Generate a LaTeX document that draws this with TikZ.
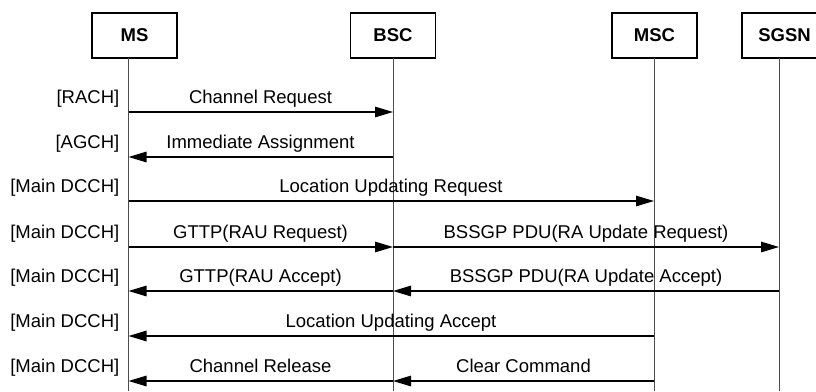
\documentclass[tikz,border=0pt]{standalone}
\usepackage{fontspec}
\setmainfont{Liberation Sans}
\usetikzlibrary{arrows.meta}
\begin{document}
\begin{tikzpicture}[x=1pt,y=-1pt,
 ent/.style={draw,line width=1.8pt,minimum width=85pt,minimum height=45pt,font=\fontsize{18.5}{20}\selectfont\bfseries,inner sep=0},
 life/.style={draw=black!70,line width=0.9pt},
 msg/.style={line width=1.3pt,-{Triangle[length=18pt,width=10.5pt]}},
 lbl/.style={font=\fontsize{18.5}{20}\selectfont,anchor=base,inner sep=0},
 chan/.style={font=\fontsize{18.5}{20}\selectfont,anchor=base east,inner sep=0}]
\path[use as bounding box] (0,0) rectangle (816,391);
\begin{scope}
\clip (0,0) rectangle (816,391);
% entities
\node[ent] (ms) at (134.5,35.5) {MS};
\node[ent] (bsc) at (393,35.5) {BSC};
\node[ent] (msc) at (654.5,35.5) {MSC};
\node[ent] (sgsn) at (784.5,35.5) {SGSN};
% lifelines
\coordinate (msT) at (128.5,58);   \coordinate (msB) at (128.5,391);
\coordinate (bscT) at (393,58);    \coordinate (bscB) at (393,391);
\coordinate (mscT) at (654,58);    \coordinate (mscB) at (654,391);
\coordinate (sgsnT) at (779,58);   \coordinate (sgsnB) at (779,391);
\draw[life] (msT) -- (msB);
\draw[life] (bscT) -- (bscB);
\draw[life] (mscT) -- (mscB);
\draw[life] (sgsnT) -- (sgsnB);
% messages
\draw[msg] (msT |- 0,112) -- (bscT |- 0,112);
\draw[msg] (bscT |- 0,157) -- (msT |- 0,157);
\draw[msg] (msT |- 0,201) -- (mscT |- 0,201);
\draw[msg] (msT |- 0,247) -- (bscT |- 0,247);
\draw[msg] (bscT |- 0,247) -- (sgsnT |- 0,247);
\draw[msg] (bscT |- 0,291) -- (msT |- 0,291);
\draw[msg] (sgsnT |- 0,291) -- (bscT |- 0,291);
\draw[msg] (mscT |- 0,336) -- (msT |- 0,336);
\draw[msg] (bscT |- 0,381) -- (msT |- 0,381);
\draw[msg] (mscT |- 0,381) -- (bscT |- 0,381);
% message labels
\node[lbl] (l1) at (260.5,103.5) {Channel Request};
\node[lbl] (l2) at (260.5,148.5) {Immediate Assignment};
\node[lbl] (l3) at (391,192.5) {Location Updating Request};
\node[lbl] (l4) at (260.5,238.5) {GTTP(RAU Request)};
\node[lbl] (l5) at (586,238.5) {BSSGP PDU(RA Update Request)};
\node[lbl] (l6) at (260.5,282.5) {GTTP(RAU Accept)};
\node[lbl] (l7) at (586,282.5) {BSSGP PDU(RA Update Accept)};
\node[lbl] (l8) at (391,327.5) {Location Updating Accept};
\node[lbl] (l9) at (260.5,372.5) {Channel Release};
\node[lbl] (l10) at (523.5,372.5) {Clear Command};
% channel labels
\node[chan] (c1) at (119.5,103.5) {[RACH]};
\node[chan] (c2) at (119.5,148.5) {[AGCH]};
\node[chan] (c3) at (119.5,192.5) {[Main DCCH]};
\node[chan] (c4) at (119.5,238.5) {[Main DCCH]};
\node[chan] (c5) at (119.5,282.5) {[Main DCCH]};
\node[chan] (c6) at (119.5,327.5) {[Main DCCH]};
\node[chan] (c7) at (119.5,372.5) {[Main DCCH]};
\end{scope}
\end{tikzpicture}
\end{document}
